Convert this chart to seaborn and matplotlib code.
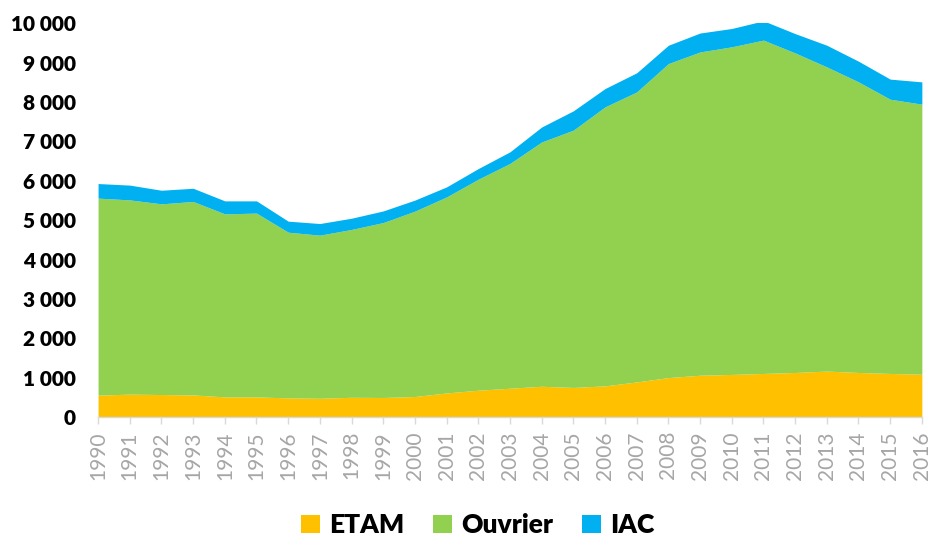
import pandas as pd
import matplotlib
matplotlib.use("Agg")
import matplotlib.pyplot as plt
import seaborn as sns

# Values
years = list(range(1990, 2017))
etam = [560, 585, 575, 565, 515, 515, 490, 480, 505, 500, 525, 615, 685, 735, 785, 755,
        795, 895, 1005, 1065, 1085, 1110, 1135, 1170, 1135, 1110, 1090]
ouvrier = [5000, 4930, 4840, 4910, 4645, 4665, 4205, 4140, 4260, 4440, 4705, 4975, 5355,
           5705, 6200, 6530, 7080, 7360, 7970, 8205, 8315, 8460, 8110, 7720, 7375, 6960, 6855]
iac = [370, 375, 345, 335, 330, 310, 280, 295, 285, 295, 280, 255, 270, 295, 380, 490,
       465, 485, 465, 480, 465, 490, 490, 550, 525, 510, 565]
yticks = [0, 1000, 2000, 3000, 4000, 5000, 6000, 7000, 8000, 9000, 10000]
ytick_labels = ["0", "1 000", "2 000", "3 000", "4 000", "5 000",
                "6 000", "7 000", "8 000", "9 000", "10 000"]
labels = ["ETAM", "Ouvrier", "IAC"]
colors = ["#FFC000", "#92D050", "#00B0F0"]

df = pd.DataFrame({"year": years, "ETAM": etam, "Ouvrier": ouvrier, "IAC": iac})

sns.set_theme(style="white")
plt.rcParams["font.family"] = ["Lato", "DejaVu Sans"]

fig = plt.figure(figsize=(9.34, 5.39), dpi=100)
ax = fig.add_axes([0.105, 0.226, 0.882, 0.731])

ax.stackplot(df["year"], df["ETAM"], df["Ouvrier"], df["IAC"],
             labels=labels, colors=colors, linewidth=0)

ax.set_xlim(1990, 2016)
ax.set_ylim(0, 10000)
ax.set_xticks(years)
ax.set_xticklabels([str(y) for y in years], rotation=90, color="#A6A6A6", fontsize=15)
ax.set_yticks(yticks)
ax.set_yticklabels(ytick_labels, fontweight="heavy", fontsize=15, color="black")

ax.tick_params(axis="x", bottom=True, length=5, width=1, color="#D9D9D9", pad=5)
ax.tick_params(axis="y", left=False, length=0, pad=16)
for side in ["top", "right", "left"]:
    ax.spines[side].set_visible(False)
ax.spines["bottom"].set_color("#D9D9D9")
ax.spines["bottom"].set_linewidth(1)

leg = ax.legend(loc="center", bbox_to_anchor=(0.461, -0.274), ncol=3, frameon=False,
                prop={"weight": "heavy", "size": 19}, handlelength=0.7, handleheight=0.7,
                columnspacing=1.1, handletextpad=0.35)
for t in leg.get_texts():
    t.set_color("black")

fig.savefig("out.png", dpi=100)
